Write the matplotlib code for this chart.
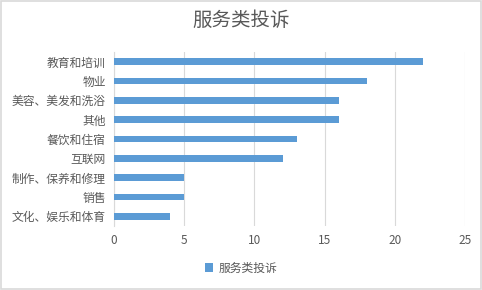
import matplotlib.pyplot as plt
from matplotlib.patches import Rectangle

plt.rcParams['font.family'] = ['Noto Sans CJK SC', 'DejaVu Sans']

# data, top to bottom
categories = ['教育和培训', '物业', '美容、美发和洗浴', '其他', '餐饮和住宿',
              '互联网', '制作、保养和修理', '销售', '文化、娱乐和体育']
complaints = [22, 18, 16, 16, 13, 12, 5, 5, 4]
series_name = '服务类投诉'
title = '服务类投诉'

bar_color = '#5B9BD5'
text_color = '#595959'
grid_color = '#D9D9D9'

fig = plt.figure(figsize=(4.82, 2.9), dpi=100)
ax = fig.add_axes([0.2365, 0.221, 0.7285, 0.600])

y = list(range(len(categories)))
ax.barh(y, complaints, height=0.35, color=bar_color, label=series_name, zorder=3)
ax.set_yticks(y)
ax.set_yticklabels(categories)
ax.set_ylim(len(categories) - 0.5, -0.5)
ax.set_xlim(0, 25)
ax.set_xticks([0, 5, 10, 15, 20, 25])

ax.grid(axis='x', color=grid_color, linewidth=0.8, zorder=0)
for side in ['top', 'right', 'bottom']:
    ax.spines[side].set_visible(False)
ax.spines['left'].set_color(grid_color)
ax.tick_params(axis='both', length=0, labelsize=8.5, colors=text_color)
ax.tick_params(axis='y', pad=6)
ax.tick_params(axis='x', pad=6)

fig.text(0.5, 0.93, title, ha='center', va='center', fontsize=14, color=text_color)

fig.legend(loc='center', bbox_to_anchor=(0.5, 0.075), frameon=False, fontsize=8.5,
           labelcolor=text_color, handlelength=0.7, handleheight=0.7, handletextpad=0.4)

fig.patches.append(Rectangle((0.002, 0.003), 0.995, 0.993, transform=fig.transFigure,
                             fill=False, edgecolor='#D9D9D9', linewidth=1.2))

fig.savefig('out.png', dpi=100)
